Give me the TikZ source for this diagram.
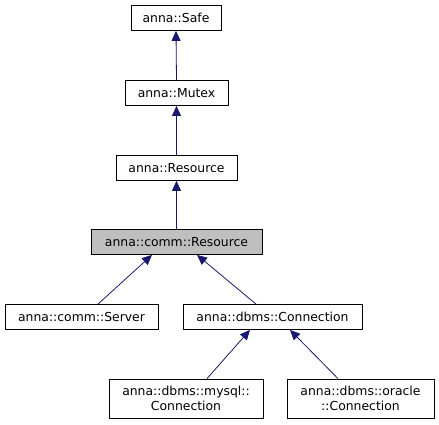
\documentclass[tikz,border=0pt]{standalone}
\usepackage{fontspec}
\setmainfont{DejaVu Sans}
\usetikzlibrary{arrows.meta}
\definecolor{edgeblue}{HTML}{191970}
\definecolor{selgray}{HTML}{BFBFBF}
\tikzset{
  cls/.style={draw=black, line width=0.8pt, fill=white, inner sep=0pt, minimum height=25pt,
    font=\fontsize{12.4}{14.5}\selectfont, align=center},
  edge/.style={draw=edgeblue, line width=0.8pt, -{Triangle[length=10pt,width=9pt]}, shorten >=0pt}
}
\begin{document}
\begin{tikzpicture}[x=1pt,y=-1pt]
\useasboundingbox (0,0) rectangle (439,425);
\node[cls, minimum width=90pt] (safe) at (176,18) {anna::Safe};
\node[cls, minimum width=103pt] (mutex) at (176.5,93) {anna::Mutex};
\node[cls, minimum width=121pt] (res) at (176.5,168) {anna::Resource};
\node[cls, minimum width=171pt, fill=selgray] (cres) at (176.5,242) {anna::comm::Resource};
\node[cls, minimum width=153pt] (srv) at (81.5,317) {anna::comm::Server};
\node[cls, minimum width=179pt] (conn) at (272.5,317) {anna::dbms::Connection};
\node[cls, minimum width=154pt, minimum height=39pt] (mysql) at (186,398.5) {anna::dbms::mysql::\\Connection};
\node[cls, minimum width=147pt, minimum height=39pt] (oracle) at (360.5,398.5) {anna::dbms::oracle\\::Connection};
\draw[edge] (mutex.north) -- (safe.south);
\draw[edge] (res.north) -- (mutex.south);
\draw[edge] (cres.north) -- (res.south);
\draw[edge] ([xshift=16.5pt]srv.north) -- ([xshift=-24.5pt]cres.south);
\draw[edge] ([xshift=-16.5pt]conn.north) -- ([xshift=20.5pt]cres.south);
\draw[edge] ([xshift=21pt]mysql.north) -- ([xshift=-22.5pt]conn.south);
\draw[edge] ([xshift=-22.5pt]oracle.north) -- ([xshift=17.5pt]conn.south);
\end{tikzpicture}
\end{document}
